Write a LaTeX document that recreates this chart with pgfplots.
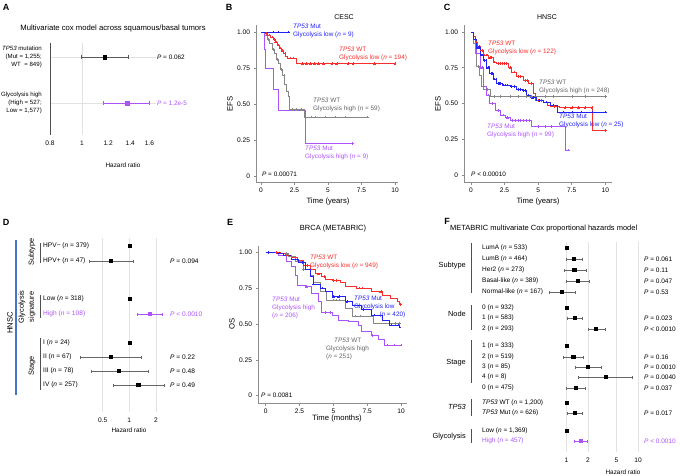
\documentclass[border=0pt]{standalone}
\usepackage{pgfplots}
\pgfplotsset{compat=1.18}
\usepackage{fontspec}
\setmainfont{Liberation Sans}
\definecolor{kmred}{RGB}{250,45,45}
\definecolor{kmblue}{RGB}{35,35,245}
\definecolor{kmpurple}{RGB}{172,84,250}
\definecolor{kmgray}{RGB}{135,135,135}
\definecolor{txtgray}{RGB}{100,100,100}
\definecolor{hnscblue}{RGB}{70,115,200}
\definecolor{axgray}{RGB}{140,140,140}
\definecolor{gridc}{RGB}{226,226,226}
\definecolor{barc}{RGB}{80,80,80}
\newcommand{\fsz}[1]{\fontsize{#1}{8}\selectfont}
\newcommand{\TP}{\textit{TP53}}
\newcommand{\nn}{\textit{n}}
\newcommand{\PP}{\textit{P}}
\pgfplotsset{
  km/.style={scale only axis, clip=false, axis lines=left,
    axis line style={-, draw=axgray, line width=0.9pt},
    tick style={draw=axgray, line width=0.6pt}, tick align=outside, major tick length=2.5pt,
    tick label style={font=\fsz{6.6}}, /pgf/number format/assume math mode=true,
    xtick={0,2.5,5,7.5,10}, xticklabels={0,2.5,5,7.5,10},
    ytick={0,0.25,0.5,0.75,1}, yticklabels={0,0.25,0.50,0.75,1.00}},
  kml/.style={const plot, line width=0.65pt, mark=none},
  cens/.style={only marks, mark=+, mark size=1.3pt, mark options={line width=0.4pt}},
  forestax/.style={scale only axis, clip=false, y dir=reverse,
    x coord trafo/.code={\pgfmathparse{ln(##1)}},
    x coord inv trafo/.code={\pgfmathparse{exp(##1)}},
    axis line style={draw=none}, major tick length=0pt,
    tick label style={font=\fsz{6.6}}, /pgf/number format/assume math mode=true,
    xticklabel style={yshift=-2.5pt}},
  fci/.style={line width=0.5pt, mark=|, mark size=1.5pt},
  fpt/.style={only marks, mark=square*, mark size=1.6pt},
}
\tikzset{
  lab/.style={font=\fsz{6.4}, inner sep=0pt, align=left, anchor=west},
  grp/.style={font=\fontsize{7.4}{10}\selectfont, inner sep=0pt, align=center},
  ttl/.style={font=\fsz{7}, inner sep=0pt},
  axl/.style={font=\fsz{7.7}, inner sep=0pt},
  hr/.style={font=\fsz{6.4}, inner sep=0pt},
  letter/.style={font=\fontsize{9}{9}\selectfont\bfseries, inner sep=0pt},
}
\begin{document}
\begin{tikzpicture}[x=1pt,y=-1pt]
\useasboundingbox (0,0) rectangle (680,476);

% ---------------- Panel A ----------------
\begin{axis}[forestax, at={(50pt,-135pt)}, anchor=south west, width=106.4pt, height=92pt,
  xmin=0.8, xmax=1.68, ymin=43, ymax=135,
  xtick={0.8,1,1.2,1.4,1.6}, xticklabels={0.8,1,1.2,1.4,1.6},
  ytick={57,103}, yticklabels={}, ymajorgrids, grid style={gridc, line width=0.5pt}]
\draw[gridc, line width=0.6pt] (axis cs:1,43) -- (axis cs:1,135);
\draw[barc, line width=0.7pt] (axis cs:0.8,43) -- (axis cs:0.8,135);
\addplot[fci, color=black!65, mark size=2pt] coordinates {(0.995,57) (1.38,57)};
\addplot[fci, color=kmpurple, mark size=2pt] coordinates {(1.16,103) (1.6,103)};
\addplot[fpt, color=black, mark size=1.8pt] coordinates {(1.17,57)};
\addplot[fpt, color=kmpurple, mark size=1.8pt] coordinates {(1.37,103)};
\end{axis}
\node[ttl, font=\fsz{7.7}] at (113,29) {Multivariate cox model across squamous/basal tumors};
\node[lab, font=\fsz{6.1}, anchor=east, align=right] at (42,57) {\TP{} mutation\\(Mut = 1,255;\\WT\ \ = 849)};
\node[lab, font=\fsz{6.1}, anchor=east, align=right] at (42,103) {Glycolysis high\\(High = 527;\\Low = 1,577)};
\node[lab] at (157,57) {\PP{} = 0.062};
\node[lab, kmpurple] at (157,103) {\PP{} = 1.2e-5};
\node[hr] at (123,165) {Hazard ratio};

% ---------------- Panel B ----------------
\begin{axis}[km, at={(256pt,-182pt)}, anchor=south west, width=142pt, height=157pt,
  xmin=-0.373, xmax=10.22, ymin=-0.042, ymax=1.049]
\addplot[kml, color=kmgray] coordinates {(0,1)(0.25,0.98)(0.45,0.95)(0.65,0.92)(0.85,0.88)(1.0,0.85)(1.15,0.81)(1.3,0.78)(1.45,0.74)(1.6,0.70)(1.75,0.64)(1.9,0.59)(2.05,0.55)(2.15,0.46)(3.2,0.41)(7.95,0.41)};
\addplot[cens, color=kmgray] coordinates {(0.55,0.95)(0.9,0.88)(1.2,0.81)(1.5,0.74)(1.7,0.70)(2.3,0.46)(2.65,0.46)(3.0,0.46)(3.75,0.41)(4.05,0.41)(4.8,0.41)(5.5,0.41)(6.3,0.41)(7.95,0.41)};
\addplot[kml, color=kmpurple] coordinates {(0,1)(0.22,0.88)(0.35,0.75)(0.92,0.60)(1.3,0.455)(3.28,0.225)(6.84,0.225)};
\addplot[cens, color=kmpurple] coordinates {(6.84,0.225)};
\addplot[kml, color=kmred] coordinates {(0,1)(0.3,0.99)(0.5,0.98)(0.7,0.965)(0.9,0.95)(1.05,0.93)(1.2,0.91)(1.4,0.89)(1.55,0.87)(1.7,0.85)(1.85,0.83)(2.0,0.82)(2.6,0.78)(10,0.78)};
\addplot[cens, color=kmred] coordinates {(0.4,0.99)(0.6,0.98)(0.8,0.965)(1.0,0.95)(1.1,0.93)(1.3,0.91)(1.45,0.89)(1.6,0.87)(1.8,0.85)(2.2,0.82)(2.4,0.82)(3.1,0.78)(3.4,0.78)(3.7,0.78)(4.0,0.78)(4.3,0.78)(4.65,0.78)(5.3,0.78)(5.65,0.78)(6.5,0.78)(6.85,0.78)(8.45,0.78)(10,0.78)};
\addplot[kml, color=kmblue] coordinates {(0,1)(2.05,1)};
\addplot[cens, color=kmblue] coordinates {(0.9,1)(1.3,1)(2.05,1)};
\end{axis}
\node[ttl] at (344,17) {CESC};
\node[axl, rotate=90] at (230,104) {EFS};
\node[axl] at (328,202) {Time (years)};
\node[lab, kmblue] at (293,30.5) {\TP{} Mut\\Glycolysis low (\nn{} = 9)};
\node[lab, kmred] at (339,54) {\TP{} WT\\Glycolysis low (\nn{} = 194)};
\node[lab, txtgray] at (313,105) {\TP{} WT\\Glycolysis high (\nn{} = 59)};
\node[lab, kmpurple] at (305,153) {\TP{} Mut\\Glycolysis high (\nn{} = 9)};
\node[lab] at (262,174) {\PP{} = 0.00071};

% ---------------- Panel C ----------------
\begin{axis}[km, at={(464pt,-182pt)}, anchor=south west, width=148pt, height=157pt,
  xmin=-0.52, xmax=10.5, ymin=-0.049, ymax=1.049]
\addplot[kml, color=kmgray] coordinates {(0,1)(0.17,0.92)(0.3,0.85)(0.37,0.76)(0.62,0.70)(0.8,0.62)(0.92,0.60)(1.47,0.55)(10,0.55)};
\addplot[cens, color=kmgray] coordinates {(0.5,0.76)(1.2,0.60)(1.7,0.55)(2.2,0.55)(2.9,0.55)(3.5,0.55)(4.1,0.55)(4.5,0.55)(5.5,0.55)(6.1,0.55)(7.5,0.55)(8.5,0.55)(10,0.55)};
\addplot[kml, color=kmpurple] coordinates {(0,1)(0.17,0.95)(0.42,0.85)(0.67,0.75)(0.92,0.62)(1.17,0.56)(1.4,0.50)(1.8,0.45)(2.2,0.42)(2.55,0.40)(2.9,0.38)(4.48,0.34)(7.0,0.175)(7.26,0.175)};
\addplot[cens, color=kmpurple] coordinates {(0.8,0.75)(1.3,0.56)(1.6,0.50)(2.0,0.45)(2.4,0.42)(2.7,0.40)(3.1,0.38)(3.3,0.38)(3.5,0.38)(3.7,0.38)(3.9,0.38)(4.1,0.38)(4.3,0.38)(5.0,0.34)(5.5,0.34)(6.0,0.34)(7.26,0.175)};
\addplot[kml, color=kmred] coordinates {(0,1)(0.15,0.97)(0.3,0.93)(0.5,0.9)(0.67,0.87)(0.92,0.84)(1.3,0.82)(1.67,0.79)(1.9,0.78)(2.8,0.75)(3.0,0.72)(3.4,0.69)(3.9,0.66)(4.3,0.64)(4.65,0.57)(4.8,0.52)(5.4,0.51)(5.7,0.49)(5.9,0.48)(6.6,0.47)(9.0,0.31)(10,0.31)};
\addplot[cens, color=kmred] coordinates {(0.4,0.93)(0.6,0.9)(0.8,0.87)(1.0,0.84)(1.1,0.84)(1.2,0.84)(1.4,0.82)(1.5,0.82)(1.75,0.79)(2.0,0.78)(2.15,0.78)(2.3,0.78)(2.45,0.78)(2.6,0.78)(2.9,0.75)(3.2,0.72)(3.5,0.69)(3.7,0.69)(4.0,0.66)(4.15,0.66)(4.5,0.64)(5.0,0.52)(5.2,0.52)(6.2,0.48)(7.0,0.47)(7.5,0.47)(8.0,0.47)(8.5,0.47)(9.0,0.47)(10,0.31)};
\addplot[kml, color=kmblue] coordinates {(0,1)(0.17,0.95)(0.42,0.89)(0.67,0.84)(0.92,0.80)(1.17,0.75)(1.4,0.71)(1.67,0.67)(1.9,0.64)(2.3,0.63)(2.9,0.62)(3.4,0.60)(3.8,0.59)(4.15,0.56)(4.4,0.54)(4.9,0.52)(5.4,0.51)(5.9,0.49)(6.4,0.47)(6.45,0.44)(10,0.44)};
\addplot[cens, color=kmblue] coordinates {(0.3,0.95)(0.5,0.89)(0.6,0.89)(0.75,0.84)(0.85,0.84)(1.0,0.80)(1.1,0.80)(1.25,0.75)(1.35,0.75)(1.5,0.71)(1.6,0.71)(1.75,0.67)(1.85,0.67)(2.0,0.64)(2.1,0.64)(2.2,0.64)(2.4,0.63)(2.55,0.63)(2.7,0.63)(3.0,0.62)(3.2,0.62)(3.5,0.60)(3.65,0.60)(3.9,0.59)(4.05,0.59)(4.25,0.56)(4.6,0.54)(5.1,0.52)(5.6,0.51)(6.1,0.49)(6.9,0.44)(7.5,0.44)(8.2,0.44)(9.0,0.44)(10,0.44)};
\end{axis}
\node[ttl] at (547,17) {HNSC};
\node[axl, rotate=90] at (438,104) {EFS};
\node[axl] at (538,202) {Time (years)};
\node[lab, kmred] at (488,47.5) {\TP{} WT\\Glycolysis low (\nn{} = 122)};
\node[lab, txtgray] at (539,87) {\TP{} WT\\Glycolysis high (\nn{} = 248)};
\node[lab, kmblue] at (559,121) {\TP{} Mut\\Glycolysis low (\nn{} = 25)};
\node[lab, kmpurple] at (487,130.5) {\TP{} Mut\\Glycolysis high (\nn{} = 99)};
\node[lab] at (471,174) {\PP{} < 0.00010};

% ---------------- Panel D ----------------
\begin{axis}[forestax, at={(76pt,-412pt)}, anchor=south west, width=92.9pt, height=174pt,
  xmin=0.25, xmax=2.8, ymin=238, ymax=412, ytick=\empty,
  xtick={0.5,1,2}, xticklabels={0.5,1,2}, xmajorgrids, grid style={gridc, line width=0.5pt}]
\addplot[fci, color=black!60] coordinates {(0.35,261) (1.11,261)};
\addplot[fci, color=kmpurple] coordinates {(1.24,314) (2.36,314)};
\addplot[fci, color=black!60] coordinates {(0.28,357) (1.38,357)};
\addplot[fci, color=black!60] coordinates {(0.37,371) (1.64,371)};
\addplot[fci, color=black!60] coordinates {(0.66,385) (2.46,385)};
\addplot[fpt, color=black] coordinates {(1,246) (0.62,261) (1,299) (1,343) (0.62,357) (0.76,371) (1.26,385)};
\addplot[fpt, color=kmpurple] coordinates {(1.71,314)};
\end{axis}
\draw[hnscblue, line width=1.2pt] (16,240) -- (16,395);
\node[grp, font=\fontsize{7.7}{10}\selectfont, rotate=90] at (10,323) {HNSC};
\node[grp, rotate=90] at (32,252) {Subtype};
\node[grp, rotate=90] at (27,307) {Glycolysis\\signature};
\node[grp, rotate=90] at (32,366) {Stage};
\draw[barc, line width=0.6pt] (40,243) -- (40,263);
\draw[barc, line width=0.6pt] (40,295) -- (40,318);
\draw[barc, line width=0.6pt] (40,338) -- (40,390);
\node[lab, font=\fsz{6.6}] at (43,246) {HPV− (\nn{} = 379)};
\node[lab, font=\fsz{6.6}] at (43,261) {HPV+ (\nn{} = 47)};
\node[lab, font=\fsz{6.6}] at (43,299) {Low (\nn{} = 318)};
\node[lab, font=\fsz{6.6}, kmpurple] at (43,314) {High (\nn{} = 108)};
\node[lab, font=\fsz{6.6}] at (43,343) {I (\nn{} = 24)};
\node[lab, font=\fsz{6.6}] at (43,357) {II (\nn{} = 67)};
\node[lab, font=\fsz{6.6}] at (43,371) {III (\nn{} = 78)};
\node[lab, font=\fsz{6.6}] at (43,385) {IV (\nn{} = 257)};
\node[lab, font=\fsz{6.6}] at (170,261) {\PP{} = 0.094};
\node[lab, font=\fsz{6.6}, kmpurple] at (170,314) {\PP{} < 0.0010};
\node[lab, font=\fsz{6.6}] at (170,357) {\PP{} = 0.22};
\node[lab, font=\fsz{6.6}] at (170,371) {\PP{} = 0.48};
\node[lab, font=\fsz{6.6}] at (170,385) {\PP{} = 0.49};
\node[hr] at (129,430) {Hazard ratio};

% ---------------- Panel E ----------------
\begin{axis}[km, at={(258pt,-403pt)}, anchor=south west, width=149pt, height=157pt,
  xmin=-0.57, xmax=10.44, ymin=-0.051, ymax=1.044]
\addplot[kml, color=kmgray] coordinates {(0,1)(0.9,0.99)(1.7,0.97)(2.2,0.935)(2.8,0.88)(3.3,0.84)(3.5,0.79)(4.0,0.725)(4.5,0.667)(5.9,0.61)(6.4,0.555)(7.95,0.505)(10,0.505)};
\addplot[cens, color=kmgray] coordinates {(1.5,0.99)(1.9,0.97)(2.8,0.88)(5.0,0.667)(5.2,0.667)(5.4,0.667)(6.6,0.555)(7.0,0.555)(9.6,0.505)(9.9,0.505)};
\addplot[kml, color=kmpurple] coordinates {(0,1)(0.9,0.98)(1.55,0.935)(1.92,0.90)(2.17,0.84)(2.36,0.77)(2.9,0.76)(3.4,0.714)(3.9,0.656)(4.14,0.58)(4.9,0.563)(5.4,0.528)(6.1,0.516)(6.85,0.49)(7.1,0.446)(7.8,0.42)(8.3,0.39)(8.8,0.353)(10,0.353)};
\addplot[cens, color=kmpurple] coordinates {(3.0,0.76)(4.4,0.58)(4.8,0.58)(7.9,0.42)(9.0,0.353)(9.5,0.353)(10,0.353)};
\addplot[kml, color=kmred] coordinates {(0,1)(1.06,0.99)(1.43,0.98)(1.92,0.965)(2.3,0.945)(2.8,0.91)(3.3,0.88)(3.65,0.85)(4.14,0.83)(4.4,0.81)(4.9,0.805)(5.5,0.79)(5.9,0.76)(6.7,0.75)(7.8,0.725)(8.6,0.70)(9.2,0.68)(9.7,0.655)(9.9,0.635)(10,0.635)};
\addplot[cens, color=kmred] coordinates {(0.8,1)(1.6,0.98)(3.1,0.91)(3.9,0.85)(4.3,0.83)(5.0,0.805)(5.2,0.805)(6.9,0.75)(7.1,0.75)(8.5,0.725)(9.95,0.635)};
\addplot[kml, color=kmblue] coordinates {(0,1)(0.8,0.995)(1.3,0.98)(1.92,0.95)(2.4,0.93)(2.9,0.88)(3.3,0.83)(3.5,0.78)(4.0,0.75)(4.4,0.725)(4.9,0.69)(5.9,0.655)(6.4,0.633)(7.1,0.60)(7.8,0.563)(8.6,0.528)(9.1,0.493)(9.9,0.48)(10,0.48)};
\addplot[cens, color=kmblue] coordinates {(0.2,1)(1.0,0.995)(2.7,0.93)(3.5,0.78)(4.2,0.75)(5.0,0.69)(5.4,0.69)(6.0,0.655)(7.2,0.60)(8.0,0.563)(9.3,0.493)(9.8,0.493)};
\end{axis}
\node[ttl, font=\fsz{7.5}] at (333,229) {BRCA (METABRIC)};
\node[axl, rotate=90] at (232,324) {OS};
\node[axl] at (337,419) {Time (months)};
\node[lab, kmred] at (310,262) {\TP{} WT\\Glycolysis low (\nn{} = 949)};
\node[lab, kmpurple] at (272,308) {\TP{} Mut\\Glycolysis high\\(\nn{} = 206)};
\node[lab, kmblue] at (354,303) {\TP{} Mut\\Glycolysis low};
\node[lab, kmblue, anchor=east] at (405.5,315) {(\nn{} = 420)};
\node[lab, txtgray] at (326,349) {\hspace*{8pt}\TP{} WT\\Glycolysis high\\(\nn{} = 251)};
\node[lab] at (261,395) {\PP{} = 0.0081};

% ---------------- Panel F ----------------
\begin{axis}[forestax, at={(545pt,-452pt)}, anchor=south west, width=96pt, height=210pt,
  xmin=0.5, xmax=11, ymin=242, ymax=452, ytick=\empty,
  xtick={1,2,5,10}, xticklabels={1,2,5,10}, xmajorgrids, grid style={gridc, line width=0.5pt}]
\addplot[fci, color=black!60] coordinates {(0.98,259) (1.67,259)};
\addplot[fci, color=black!60] coordinates {(0.92,270) (1.86,270)};
\addplot[fci, color=black!60] coordinates {(0.98,281) (2.07,281)};
\addplot[fci, color=black!60] coordinates {(0.57,292) (1.31,292)};
\addplot[fci, color=black!60] coordinates {(1.02,318) (1.67,318)};
\addplot[fci, color=black!60] coordinates {(2.0,329) (3.43,329)};
\addplot[fci, color=black!60] coordinates {(0.90,357) (1.71,357)};
\addplot[fci, color=black!60] coordinates {(1.31,367) (3.08,367)};
\addplot[fci, color=black!60] coordinates {(1.45,377) (8.34,377)};
\addplot[fci, color=black!60] coordinates {(1.0,388) (1.80,388)};
\addplot[fci, color=black!60] coordinates {(1.02,413) (1.67,413)};
\addplot[fci, color=kmpurple] coordinates {(1.27,441) (1.94,441)};
\addplot[fpt, color=black] coordinates {(1,248)(1.27,259)(1.28,270)(1.42,281)(0.86,292)(1,308)(1.29,318)(2.57,329)(1,346)(1.24,357)(2.0,367)(3.5,377)(1.35,388)(1,403)(1.31,413)(1,431)};
\addplot[fpt, color=kmpurple] coordinates {(1.57,441)};
\end{axis}
\node[font=\fsz{7.5}, inner sep=0pt, anchor=west] at (450,229) {METABRIC multivariate Cox proportional hazards model};
\node[grp, anchor=east] at (466,266) {Subtype};
\node[grp, anchor=east] at (466,314) {Node};
\node[grp, anchor=east] at (466,363) {Stage};
\node[grp, anchor=east] at (466,407) {\TP};
\node[grp, anchor=east] at (466,437) {Glycolysis};
\draw[barc, line width=1pt] (471,243) -- (471,293);
\draw[barc, line width=1pt] (471,305) -- (471,330);
\draw[barc, line width=1pt] (471,340) -- (471,383);
\draw[barc, line width=1pt] (471,399) -- (471,416);
\draw[barc, line width=1pt] (471,429) -- (471,443);
\begin{scope}[every node/.style={lab, font=\fsz{6.5}}]
\node at (482,248) {LumA (\nn{} = 533)};
\node at (482,259) {LumB (\nn{} = 464)};
\node at (482,270) {Her2 (\nn{} = 273)};
\node at (482,281) {Basal-like (\nn{} = 389)};
\node at (482,292) {Normal-like (\nn{} = 167)};
\node at (482,308) {0 (\nn{} = 932)};
\node at (482,318) {1 (\nn{} = 583)};
\node at (482,329) {2 (\nn{} = 293)};
\node at (482,346) {1 (\nn{} = 333)};
\node at (482,357) {2 (\nn{} = 519)};
\node at (482,367) {3 (\nn{} = 85)};
\node at (482,377) {4 (\nn{} = 8)};
\node at (482,388) {0 (\nn{} = 475)};
\node at (482,403) {\TP{} WT (\nn{} = 1,200)};
\node at (482,413) {\TP{} Mut (\nn{} = 626)};
\node at (482,431) {Low (\nn{} = 1,369)};
\node[kmpurple] at (482,441) {High (\nn{} = 457)};
\node at (644,259) {\PP{} = 0.061};
\node at (644,270) {\PP{} = 0.11};
\node at (644,281) {\PP{} = 0.047};
\node at (644,292) {\PP{} = 0.53};
\node at (644,318) {\PP{} = 0.023};
\node at (644,329) {\PP{} < 0.0010};
\node at (644,357) {\PP{} = 0.16};
\node at (644,367) {\PP{} = 0.0010};
\node at (644,377) {\PP{} = 0.0040};
\node at (644,388) {\PP{} = 0.037};
\node at (644,413) {\PP{} = 0.017};
\node[kmpurple] at (644,441) {\PP{} < 0.0010};
\end{scope}
\node[hr] at (623,472) {Hazard ratio};

% ---------------- Panel letters ----------------
\node[letter] at (6,7) {A};
\node[letter] at (229,7) {B};
\node[letter] at (447,7) {C};
\node[letter] at (6,222) {D};
\node[letter] at (230,222) {E};
\node[letter] at (447,221) {F};
\end{tikzpicture}
\end{document}
